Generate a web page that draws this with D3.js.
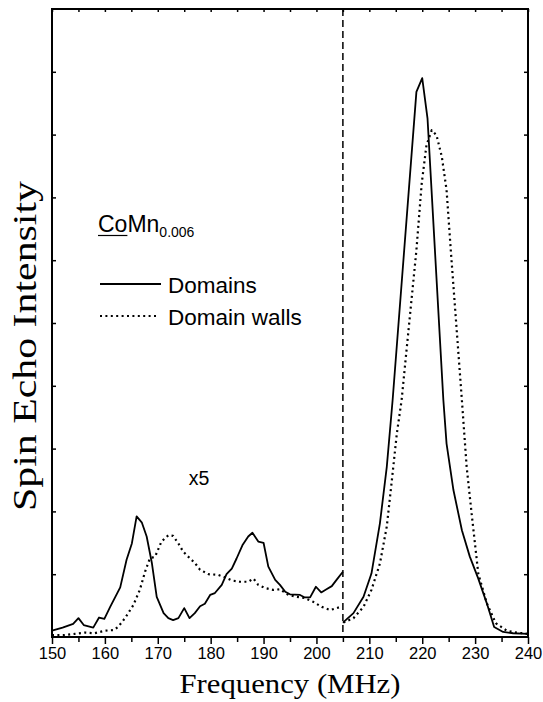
<!DOCTYPE html>
<html>
<head>
<meta charset="utf-8">
<script src="https://cdn.jsdelivr.net/npm/d3@7"></script>
<style>
  body { margin: 0; background: #fff; }
  svg { display: block; }
</style>
</head>
<body>
<svg id="chart"></svg>
<script>
// frequency (MHz) and intensity (arb. units, 0-100)
// low frequency part is drawn magnified x5
var domainsX5Freq = [150.0, 152.0, 154.0, 155.0, 156.0, 157.8, 158.9, 159.9, 161.0, 162.9, 164.1, 165.1, 166.0, 167.0, 167.9, 168.9, 169.8, 171.1, 172.0, 172.9, 173.9, 175.0, 176.0, 177.0, 178.0, 178.9, 179.9, 180.8, 182.1, 183.0, 184.0, 184.9, 186.0, 187.1, 187.9, 189.0, 190.0, 190.9, 192.2, 193.1, 194.1, 195.0, 196.9, 197.8, 198.8, 199.9, 200.9, 201.9, 202.9, 203.8, 205.0];
var domainsX5 = [1.0, 1.5, 2.1, 3.0, 1.9, 1.5, 3.1, 2.9, 4.8, 7.9, 12.3, 14.9, 19.2, 18.2, 16.0, 11.7, 6.4, 3.8, 3.0, 2.7, 3.0, 4.6, 3.0, 3.8, 4.9, 5.3, 6.7, 7.0, 8.3, 10.0, 10.9, 12.5, 14.6, 16.0, 16.6, 15.2, 15.0, 11.2, 9.1, 8.3, 7.2, 6.8, 6.7, 6.3, 6.3, 8.0, 7.1, 7.6, 8.1, 9.1, 10.4];

var wallsX5Freq = [150.0, 152.2, 154.3, 156.2, 158.0, 160.0, 161.6, 162.5, 163.8, 165.4, 166.6, 167.6, 168.5, 169.5, 170.7, 172.0, 172.9, 173.9, 174.8, 176.1, 177.0, 178.0, 179.6, 181.4, 182.7, 184.0, 185.5, 187.1, 188.1, 189.0, 190.3, 191.8, 193.1, 194.7, 196.3, 197.8, 199.4, 201.0, 202.6, 203.8, 204.6];
var wallsX5 = [0.3, 0.3, 0.5, 0.7, 0.6, 1.0, 1.1, 1.6, 3.0, 5.1, 7.5, 10.4, 12.5, 12.8, 15.2, 16.2, 16.1, 14.9, 13.6, 12.5, 11.8, 10.7, 10.0, 9.9, 9.5, 9.0, 8.8, 8.8, 9.3, 8.3, 7.8, 7.5, 7.6, 6.7, 6.4, 6.2, 5.6, 4.8, 4.3, 4.6, 4.8];

var domainsFreq = [205.0, 207.0, 208.9, 210.4, 212.0, 213.3, 214.4, 218.9, 220.0, 221.0, 222.4, 224.0, 224.6, 225.9, 227.5, 229.0, 230.6, 232.2, 233.6, 235.3, 237.2, 240.0];
var domains = [2.3, 3.8, 6.4, 10.1, 18.1, 27.1, 37.7, 86.8, 89.0, 82.6, 61.6, 37.7, 30.8, 23.4, 17.0, 12.8, 9.3, 5.4, 1.6, 0.8, 0.6, 0.5];

var wallsFreq = [205.1, 207.0, 208.9, 210.4, 212.0, 213.3, 214.2, 215.2, 216.1, 218.9, 219.9, 220.8, 221.8, 222.7, 223.7, 224.6, 225.4, 227.5, 228.4, 229.4, 230.6, 232.2, 233.9, 236.0, 237.9, 240.0];
var walls = [2.3, 3.0, 4.8, 7.5, 11.7, 17.6, 24.5, 32.4, 37.7, 61.6, 72.2, 78.3, 80.7, 79.9, 76.5, 71.2, 61.6, 37.7, 27.1, 19.2, 10.1, 5.4, 2.2, 1.0, 0.7, 0.5];

var xMajorTicks = [150, 160, 170, 180, 190, 200, 210, 220, 230, 240];
var xMinorTicks = [155, 165, 175, 185, 195, 205, 215, 225, 235];
var yTicks = [10, 20, 30, 40, 50, 60, 70, 80, 90];
var splitFreq = 205;

var width = 543, height = 702;
var margin = { top: 9, right: 15, bottom: 65, left: 52 };

var svg = d3.select("#chart")
    .attr("width", width)
    .attr("height", height);

var x = d3.scaleLinear()
    .domain([150, 240])
    .range([margin.left, width - margin.right]);

var y = d3.scaleLinear()
    .domain([0, 100])
    .range([height - margin.bottom, margin.top]);

var sans = "'Liberation Sans', Arial, Helvetica, sans-serif";
var serif = "'Liberation Serif', 'Times New Roman', Times, serif";

// bottom axis: major ticks with labels, minor ticks without
var bottomMajor = svg.append("g")
    .attr("transform", "translate(0," + y(0) + ")")
    .call(d3.axisBottom(x).tickValues(xMajorTicks).tickSize(7).tickPadding(3).tickFormat(d3.format("d")));
bottomMajor.selectAll("text")
    .attr("font-family", sans)
    .attr("font-size", 16.5)
    .attr("fill", "#000");

svg.append("g")
    .attr("transform", "translate(0," + y(0) + ")")
    .call(d3.axisBottom(x).tickValues(xMinorTicks).tickSize(5).tickFormat(""));

// top axis: small inward ticks every 5 MHz
svg.append("g")
    .attr("transform", "translate(0," + y(100) + ")")
    .call(d3.axisTop(x).tickValues(xMajorTicks.concat(xMinorTicks)).tickSize(-3).tickFormat(""));

// left and right axes: inward ticks, no labels
svg.append("g")
    .attr("transform", "translate(" + x(150) + ",0)")
    .call(d3.axisLeft(y).tickValues(yTicks).tickSize(-4).tickFormat(""));
svg.append("g")
    .attr("transform", "translate(" + x(240) + ",0)")
    .call(d3.axisRight(y).tickValues(yTicks).tickSize(-4).tickFormat(""));

svg.selectAll(".domain").remove();
svg.selectAll(".tick line")
    .attr("stroke", "#000")
    .attr("stroke-width", 1.5);

// frame
svg.append("rect")
    .attr("x", x(150))
    .attr("y", y(100))
    .attr("width", x(240) - x(150))
    .attr("height", y(0) - y(100))
    .attr("fill", "none")
    .attr("stroke", "#000")
    .attr("stroke-width", 2);

// dashed separator between x5 part and the main line
svg.append("line")
    .attr("x1", x(splitFreq)).attr("x2", x(splitFreq))
    .attr("y1", y(100)).attr("y2", y(0))
    .attr("stroke", "#000")
    .attr("stroke-width", 1.5)
    .attr("stroke-dasharray", "7,4");

var line = d3.line()
    .x(d => x(d[0]))
    .y(d => y(d[1]));

function drawCurve(freq, vals, dotted) {
  var p = svg.append("path")
      .datum(d3.zip(freq, vals))
      .attr("d", line)
      .attr("fill", "none")
      .attr("stroke", "#000")
      .attr("stroke-linejoin", "round");
  if (dotted) {
    p.attr("stroke-width", 2.2).attr("stroke-dasharray", "2,3.4");
  } else {
    p.attr("stroke-width", 1.8);
  }
}

drawCurve(wallsX5Freq, wallsX5, true);
drawCurve(wallsFreq, walls, true);
drawCurve(domainsX5Freq, domainsX5, false);
drawCurve(domainsFreq, domains, false);

// "x5" marker
svg.append("text")
    .attr("x", 199)
    .attr("y", 485)
    .attr("text-anchor", "middle")
    .attr("font-family", sans)
    .attr("font-size", 19.5)
    .text("x5");

// sample label with underlined "Co"
var label = svg.append("text")
    .attr("x", 98)
    .attr("y", 232)
    .attr("font-family", sans)
    .attr("font-size", 23);
var co = label.append("tspan").text("Co");
label.append("tspan").text("Mn");
label.append("tspan")
    .attr("font-size", 14)
    .attr("dy", 5)
    .text("0.006");
var coLen = co.node().getComputedTextLength();
svg.append("line")
    .attr("x1", 98).attr("x2", 98 + coLen)
    .attr("y1", 235.5).attr("y2", 235.5)
    .attr("stroke", "#000")
    .attr("stroke-width", 1.2);

// legend
var legend = [
  { name: "Domains", dotted: false, y: 284, len: 61 },
  { name: "Domain walls", dotted: true, y: 316, len: 56 }
];
legend.forEach(d => {
  var l = svg.append("line")
      .attr("x1", 100).attr("x2", 100 + d.len)
      .attr("y1", d.y).attr("y2", d.y)
      .attr("stroke", "#000");
  if (d.dotted) l.attr("stroke-width", 2.2).attr("stroke-dasharray", "2,3.4");
  else l.attr("stroke-width", 1.8);
  svg.append("text")
      .attr("x", 168)
      .attr("y", d.y + 8.5)
      .attr("font-family", sans)
      .attr("font-size", 22.5)
      .text(d.name);
});

// axis titles
svg.append("text")
    .attr("x", (x(150) + x(240)) / 2)
    .attr("y", 693)
    .attr("text-anchor", "middle")
    .attr("font-family", serif)
    .attr("font-size", 27)
    .attr("textLength", 221)
    .attr("lengthAdjust", "spacingAndGlyphs")
    .text("Frequency (MHz)");

svg.append("text")
    .attr("transform", "translate(36," + 346 + ") rotate(-90)")
    .attr("text-anchor", "middle")
    .attr("font-family", serif)
    .attr("font-size", 33)
    .attr("textLength", 330)
    .attr("lengthAdjust", "spacingAndGlyphs")
    .text("Spin Echo Intensity");
</script>
</body>
</html>
